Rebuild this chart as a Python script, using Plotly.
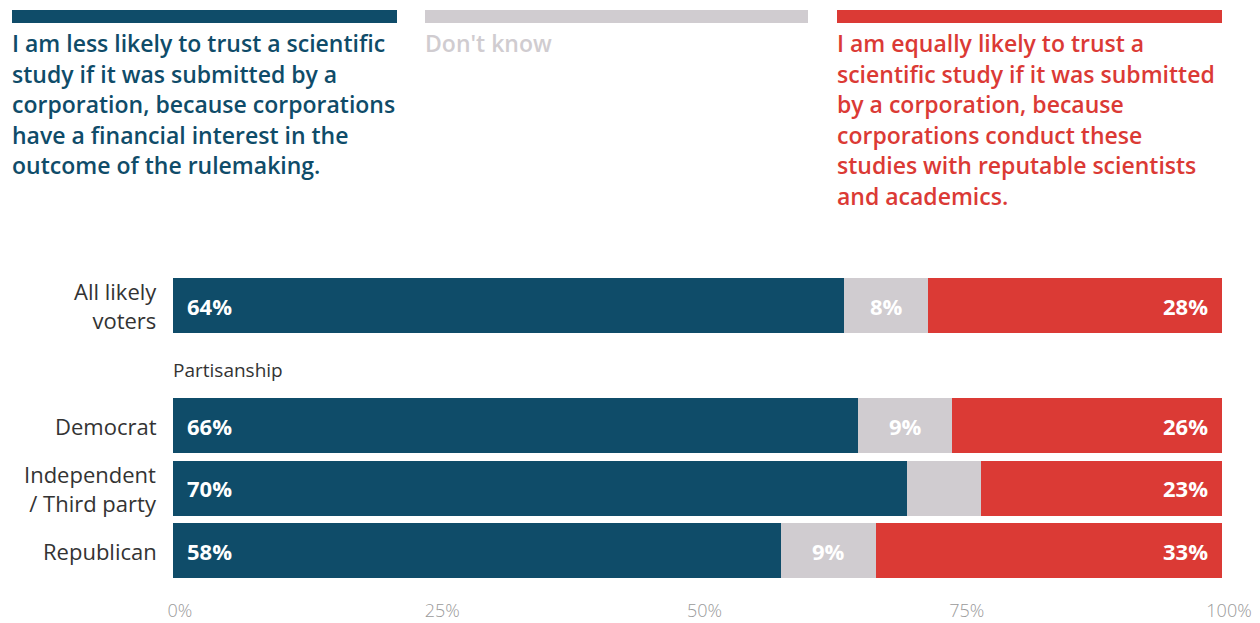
import plotly.graph_objects as go

# Survey groups and response shares (percent)
groups = ["All likely<br>voters", "Democrat", "Independent<br>/ Third party", "Republican"]
less_likely = [64, 66, 70, 58]
dont_know = [8, 9, 7, 9]
equally_likely = [28, 26, 23, 33]
dont_know_labelled = [True, True, False, True]

x_ticks = [0, 25, 50, 75, 100]
x_tick_labels = ["0%", "25%", "50%", "75%", "100%"]

legend_less = ["I am less likely to trust a scientific",
               "study if it was submitted by a",
               "corporation, because corporations",
               "have a financial interest in the",
               "outcome of the rulemaking."]
legend_dk = ["Don't know"]
legend_equal = ["I am equally likely to trust a",
                "scientific study if it was submitted",
                "by a corporation, because",
                "corporations conduct these",
                "studies with reputable scientists",
                "and academics."]

BLUE = "#0f4c69"
GRAY = "#d0ccd0"
RED = "#db3a35"
DARK = "#333333"
FONT = "Open Sans"

# Layout geometry (pixels)
W, H = 1260, 623
M_L, M_R, M_T, M_B = 173, 38, 270, 33
PW, PH = W - M_L - M_R, H - M_T - M_B
row_pos = [0, 1.92, 2.92, 3.92]
BAR_W = 0.88


def px_x(x):
    return (x - M_L) / PW


def px_y(y):
    return 1 - (y - M_T) / PH


fig = go.Figure()
series = [("less", less_likely, BLUE), ("dk", dont_know, GRAY), ("equal", equally_likely, RED)]
for name, vals, col in series:
    fig.add_trace(go.Bar(
        y=row_pos, x=vals, orientation="h", name=name, width=BAR_W,
        marker=dict(color=col, line=dict(width=0)), hoverinfo="x",
    ))

annotations = []

# Group names beside each bar (right-aligned)
for yp, name in zip(row_pos, groups):
    annotations.append(dict(text=name, xref="paper", yref="y", x=0, y=yp,
                            xanchor="right", yanchor="middle", align="right",
                            xshift=-14, showarrow=False,
                            font=dict(family=FONT, size=22, color=DARK)))

# Value labels placed on the normalised stack
for i, yp in enumerate(row_pos):
    total = less_likely[i] + dont_know[i] + equally_likely[i]
    a = less_likely[i] / total * 100
    b = a + dont_know[i] / total * 100
    lab = dict(font=dict(family=FONT, size=22, color="white", weight="bold"),
               showarrow=False, xref="x", yref="y", y=yp)
    annotations.append(dict(lab, x=0, xanchor="left", xshift=12, text=f"{less_likely[i]}%"))
    if dont_know_labelled[i]:
        annotations.append(dict(lab, x=(a + b) / 2, xanchor="center", text=f"{dont_know[i]}%"))
    annotations.append(dict(lab, x=100, xanchor="right", xshift=-12, text=f"{equally_likely[i]}%"))

annotations.append(dict(text="Partisanship", xref="x", yref="paper", x=0, y=px_y(370),
                        xanchor="left", yanchor="middle", xshift=-2, showarrow=False,
                        font=dict(family=FONT, size=19, color=DARK)))

# Custom legend: coloured bar with wrapped description underneath
legend_blocks = [(12, 397, BLUE, legend_less), (425, 808, GRAY, legend_dk), (837, 1222, RED, legend_equal)]
shapes = []
for x0, x1, col, lines in legend_blocks:
    shapes.append(dict(type="rect", xref="paper", yref="paper",
                       x0=px_x(x0), x1=px_x(x1), y0=px_y(23), y1=px_y(10),
                       fillcolor=col, line=dict(width=0)))
    for k, line in enumerate(lines):
        annotations.append(dict(text=line, xref="paper", yref="paper",
                                x=px_x(x0 - 2), y=px_y(43 + k * 30.6),
                                xanchor="left", yanchor="middle", showarrow=False,
                                font=dict(family=FONT, size=23, color=col, weight=600)))

fig.update_layout(
    barmode="stack", barnorm="percent",
    width=W, height=H, margin=dict(l=M_L, r=M_R, t=M_T, b=M_B, autoexpand=False),
    paper_bgcolor="white", plot_bgcolor="white",
    showlegend=False, annotations=annotations, shapes=shapes,
    xaxis=dict(range=[0, 100], tickvals=x_ticks, ticktext=x_tick_labels,
               showgrid=False, zeroline=False, showline=False, automargin=False,
               tickfont=dict(family=FONT, size=18, color="#9a9a9a", weight=300),
               ticklabelstandoff=8, ticklabelshift=7, fixedrange=True),
    yaxis=dict(range=[4.552, -0.568], tickvals=row_pos, showticklabels=False,
               showgrid=False, zeroline=False, showline=False, automargin=False,
               fixedrange=True),
)

fig.write_html("out.html", config={"displayModeBar": False})
